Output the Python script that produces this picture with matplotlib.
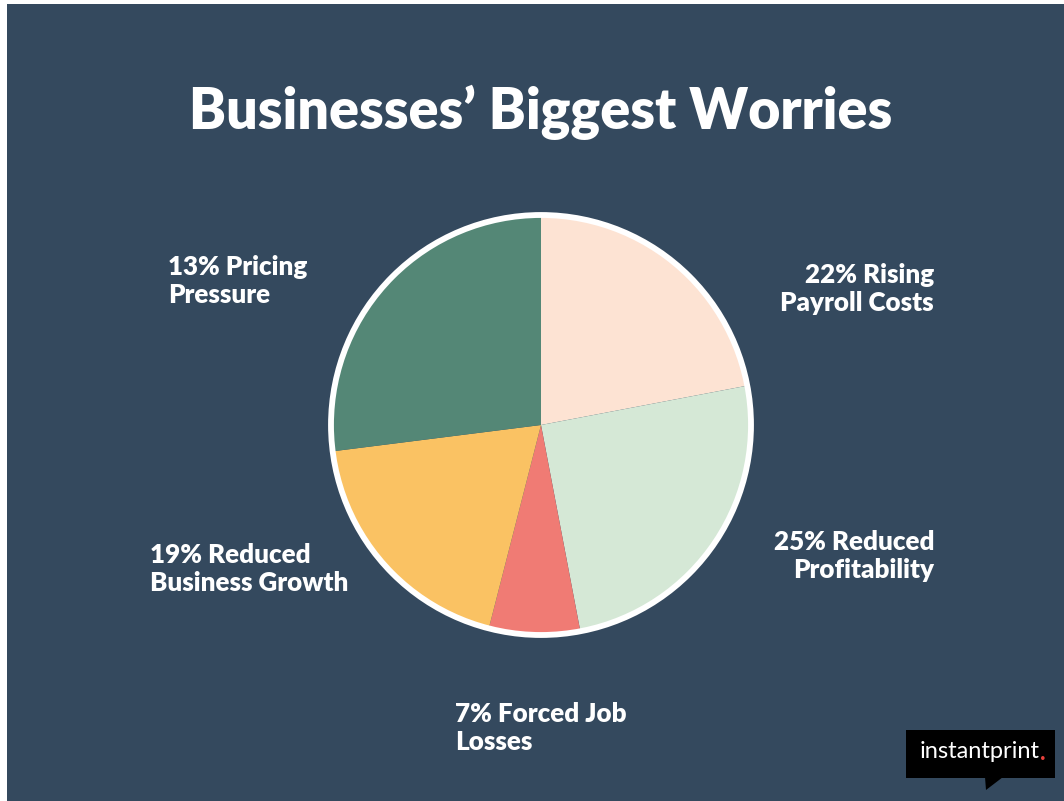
import matplotlib.pyplot as plt
from matplotlib.patches import Rectangle, Circle, Polygon

# slice shares as drawn (clockwise from 12 o'clock)
shares = [22, 25, 7, 19, 27]
labels = ["22% Rising\nPayroll Costs", "25% Reduced\nProfitability", "7% Forced Job\nLosses",
          "19% Reduced\nBusiness Growth", "13% Pricing\nPressure"]
colors = ["#FDE3D3", "#D5E8D6", "#F07B74", "#FAC263", "#548776"]

BG = "#34495E"
W, H = 1064, 801

fig = plt.figure(figsize=(W / 100, H / 100), dpi=100)
fig.patch.set_facecolor("white")
fig.add_artist(Rectangle((7 / W, 0), 1 - 7 / W, 1 - 4 / H, transform=fig.transFigure,
                         facecolor=BG, edgecolor="none", zorder=0))

font = "Lato"

# pie
cx, cy, r = 541, 425, 210
side = 460
ax = fig.add_axes([(cx - side / 2) / W, (H - cy - side / 2) / H, side / W, side / H])
ax.set_facecolor("none")
lim = side / 2 / r
ax.pie(shares, colors=colors, startangle=90, counterclock=False, radius=1.0,
       wedgeprops=dict(linewidth=0))
ax.add_patch(Circle((0, 0), 1.0, facecolor="none", edgecolor="white", linewidth=4.2, zorder=5))
ax.set_xlim(-lim, lim)
ax.set_ylim(-lim, lim)
ax.set_aspect("equal")
ax.axis("off")

# title
fig.text(541 / W, 1 - 112 / H, "Businesses\u2019 Biggest Worries", ha="center", va="center",
         color="white", fontsize=40, fontweight="heavy", family=font)

# slice labels (pixel anchor, alignment)
label_pos = [(934, 289, "right"), (934, 556, "right"), (455, 728, "left"),
             (150, 569, "left"), (168, 281, "left")]
for lab, (x, y, ha) in zip(labels, label_pos):
    fig.text(x / W, 1 - y / H, lab, ha=ha, va="center", color="white", fontsize=18.7,
             fontweight="heavy", family=font, linespacing=1.2)

# logo
fig.add_artist(Rectangle((906 / W, 1 - 778 / H), 149 / W, 48 / H, transform=fig.transFigure,
                         facecolor="black", edgecolor="none", zorder=3))
fig.add_artist(Polygon([(985 / W, 1 - 777 / H), (1003 / W, 1 - 777 / H), (986 / W, 1 - 790 / H)],
                       closed=True, transform=fig.transFigure, facecolor="black",
                       edgecolor="none", zorder=3))
t = fig.text(920 / W, 1 - 752 / H, "instantprint", ha="left", va="center", color="white",
             fontsize=17, family=font, zorder=4)
fig.canvas.draw()
bb = t.get_window_extent()
fig.text(bb.x1 / W, 1 - 752 / H, ".", ha="left", va="center", color="#E8413C",
         fontsize=17, fontweight="bold", family=font, zorder=4)

fig.savefig("out.png", dpi=100, facecolor=fig.get_facecolor())
